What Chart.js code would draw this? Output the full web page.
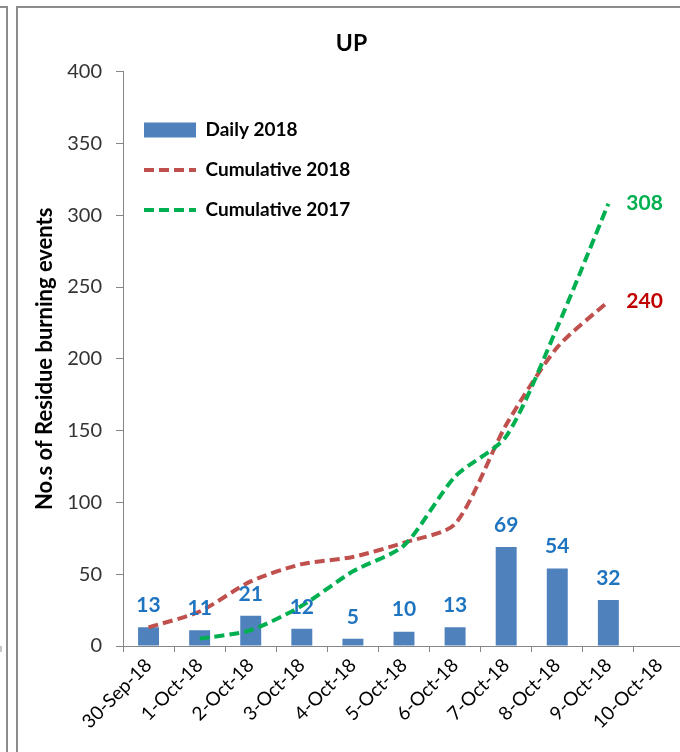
<!DOCTYPE html>
<html>
<head>
<meta charset="utf-8">
<script src="https://cdn.jsdelivr.net/npm/chart.js@4.4.1/dist/chart.umd.min.js"></script>
<style>
  html, body { margin: 0; padding: 0; background: #fff; overflow: hidden; width: 680px; height: 752px; }
  .marco_izq { position: absolute; left: 0; top: 6px; width: 6px; height: 760px; border-top: 2px solid #8c8c8c; border-right: 2px solid #8c8c8c; }
  .marca { position: absolute; left: 0; top: 646px; width: 2px; height: 6px; background: #c8c8c8; }
  .marco { position: absolute; left: 16px; top: 6px; width: 760px; height: 760px; border-top: 2px solid #8c8c8c; border-left: 2px solid #8c8c8c; }
  .caja { position: absolute; left: 0; top: 0; width: 700px; height: 744px; }
</style>
</head>
<body>
<div class="marco_izq"></div>
<div class="marca"></div>
<div class="marco"><div class="caja"><canvas id="canvas_grafica"></canvas></div></div>
<script>
const fechas = ["30-Sep-18", "1-Oct-18", "2-Oct-18", "3-Oct-18", "4-Oct-18", "5-Oct-18",
  "6-Oct-18", "7-Oct-18", "8-Oct-18", "9-Oct-18", "10-Oct-18"];
const diario2018 = [13, 11, 21, 12, 5, 10, 13, 69, 54, 32];
const acumulado2018 = [13, 24, 45, 57, 62, 72, 85, 154, 208, 240];
const acumulado2017 = [null, 5, 11, 28, 52, 70, 118, 146, 222, 308];
const ticksY = [0, 50, 100, 150, 200, 250, 300, 350, 400];

const fuente = "Lato, 'Open Sans', sans-serif";
const guiones = [10, 5];

// etiquetas de valores sobre barras y al final de las lineas
const etiquetas = {
  id: "etiquetas",
  afterDatasetsDraw(chart) {
    let ctx = chart.ctx;
    ctx.save();
    ctx.font = "bold 21px " + fuente;
    ctx.textAlign = "center";
    ctx.textBaseline = "middle";
    ctx.fillStyle = "#1F74C0";
    chart.getDatasetMeta(0).data.forEach((barra, i) => {
      ctx.fillText(String(diario2018[i]), barra.x, barra.y - 22);
    });
    ctx.textAlign = "left";
    [[1, acumulado2018, "#C00000"], [2, acumulado2017, "#00B050"]].forEach(([idx, serie, color]) => {
      let puntos = chart.getDatasetMeta(idx).data;
      let ultimo = puntos[serie.length - 1];
      ctx.fillStyle = color;
      ctx.fillText(String(serie[serie.length - 1]), ultimo.x + 18, ultimo.y);
    });
    ctx.restore();
  }
};

let canvas_graf = document.getElementById("canvas_grafica");
new Chart(canvas_graf, {
  type: "bar",
  data: {
    labels: fechas,
    datasets: [{
      type: "bar",
      label: "Daily 2018",
      data: diario2018,
      backgroundColor: "#4F81BD",
      borderWidth: 0,
      barPercentage: 0.82,
      categoryPercentage: 0.5,
      pointStyle: "rect",
      order: 2
    }, {
      type: "line",
      label: "Cumulative 2018",
      data: acumulado2018,
      borderColor: "#C0504D",
      backgroundColor: "#C0504D",
      borderWidth: 4,
      borderDash: guiones,
      pointRadius: 0,
      tension: 0.25,
      pointStyle: "line",
      order: 1
    }, {
      type: "line",
      label: "Cumulative 2017",
      data: acumulado2017,
      borderColor: "#00B050",
      backgroundColor: "#00B050",
      borderWidth: 4,
      borderDash: guiones,
      pointRadius: 0,
      tension: 0.25,
      pointStyle: "line",
      order: 0
    }]
  },
  options: {
    responsive: true,
    maintainAspectRatio: false,
    animation: false,
    layout: { padding: { left: 0, right: 33, top: 0, bottom: 0 } },
    scales: {
      y: {
        min: 0,
        max: 400,
        afterFit: (s) => { s.width = 105; },
        afterBuildTicks: (s) => { s.ticks = ticksY.map(v => ({ value: v })); },
        grid: { drawOnChartArea: false, tickLength: 7, color: "#868686" },
        border: { color: "#868686" },
        ticks: { padding: 14, color: "#333", font: { family: fuente, size: 20 } },
        title: {
          display: true,
          text: "No.s of Residue burning events",
          color: "#000",
          padding: { top: 14, bottom: 0 },
          font: { family: fuente, size: 22, weight: "bold" }
        }
      },
      x: {
        afterFit: (s) => { s.height = 106; },
        grid: { drawOnChartArea: false, tickLength: 6, color: "#868686" },
        border: { color: "#868686" },
        ticks: { minRotation: 45, maxRotation: 45, padding: 2, color: "#000", font: { family: fuente, size: 19 } }
      }
    },
    plugins: {
      title: {
        display: true,
        text: "UP",
        color: "#000",
        padding: { top: 22, bottom: 14 },
        font: { family: fuente, size: 23, weight: "bold" }
      },
      legend: {
        position: "chartArea",
        align: "start",
        title: { display: true, text: "", padding: { top: 77, bottom: 0 }, font: { size: 12 } },
        labels: {
          usePointStyle: true,
          pointStyleWidth: 52,
          boxHeight: 15,
          padding: 21,
          color: "#000",
          sort: (a, b) => a.datasetIndex - b.datasetIndex,
          generateLabels: (chart) => Chart.defaults.plugins.legend.labels.generateLabels(chart).map(item => {
            if (item.datasetIndex > 0) {
              item.lineDash = guiones;
              item.lineWidth = 4;
            }
            return item;
          }),
          font: { family: fuente, size: 19, weight: "bold" }
        }
      },
      tooltip: { enabled: false }
    }
  },
  plugins: [etiquetas]
});
</script>
</body>
</html>
